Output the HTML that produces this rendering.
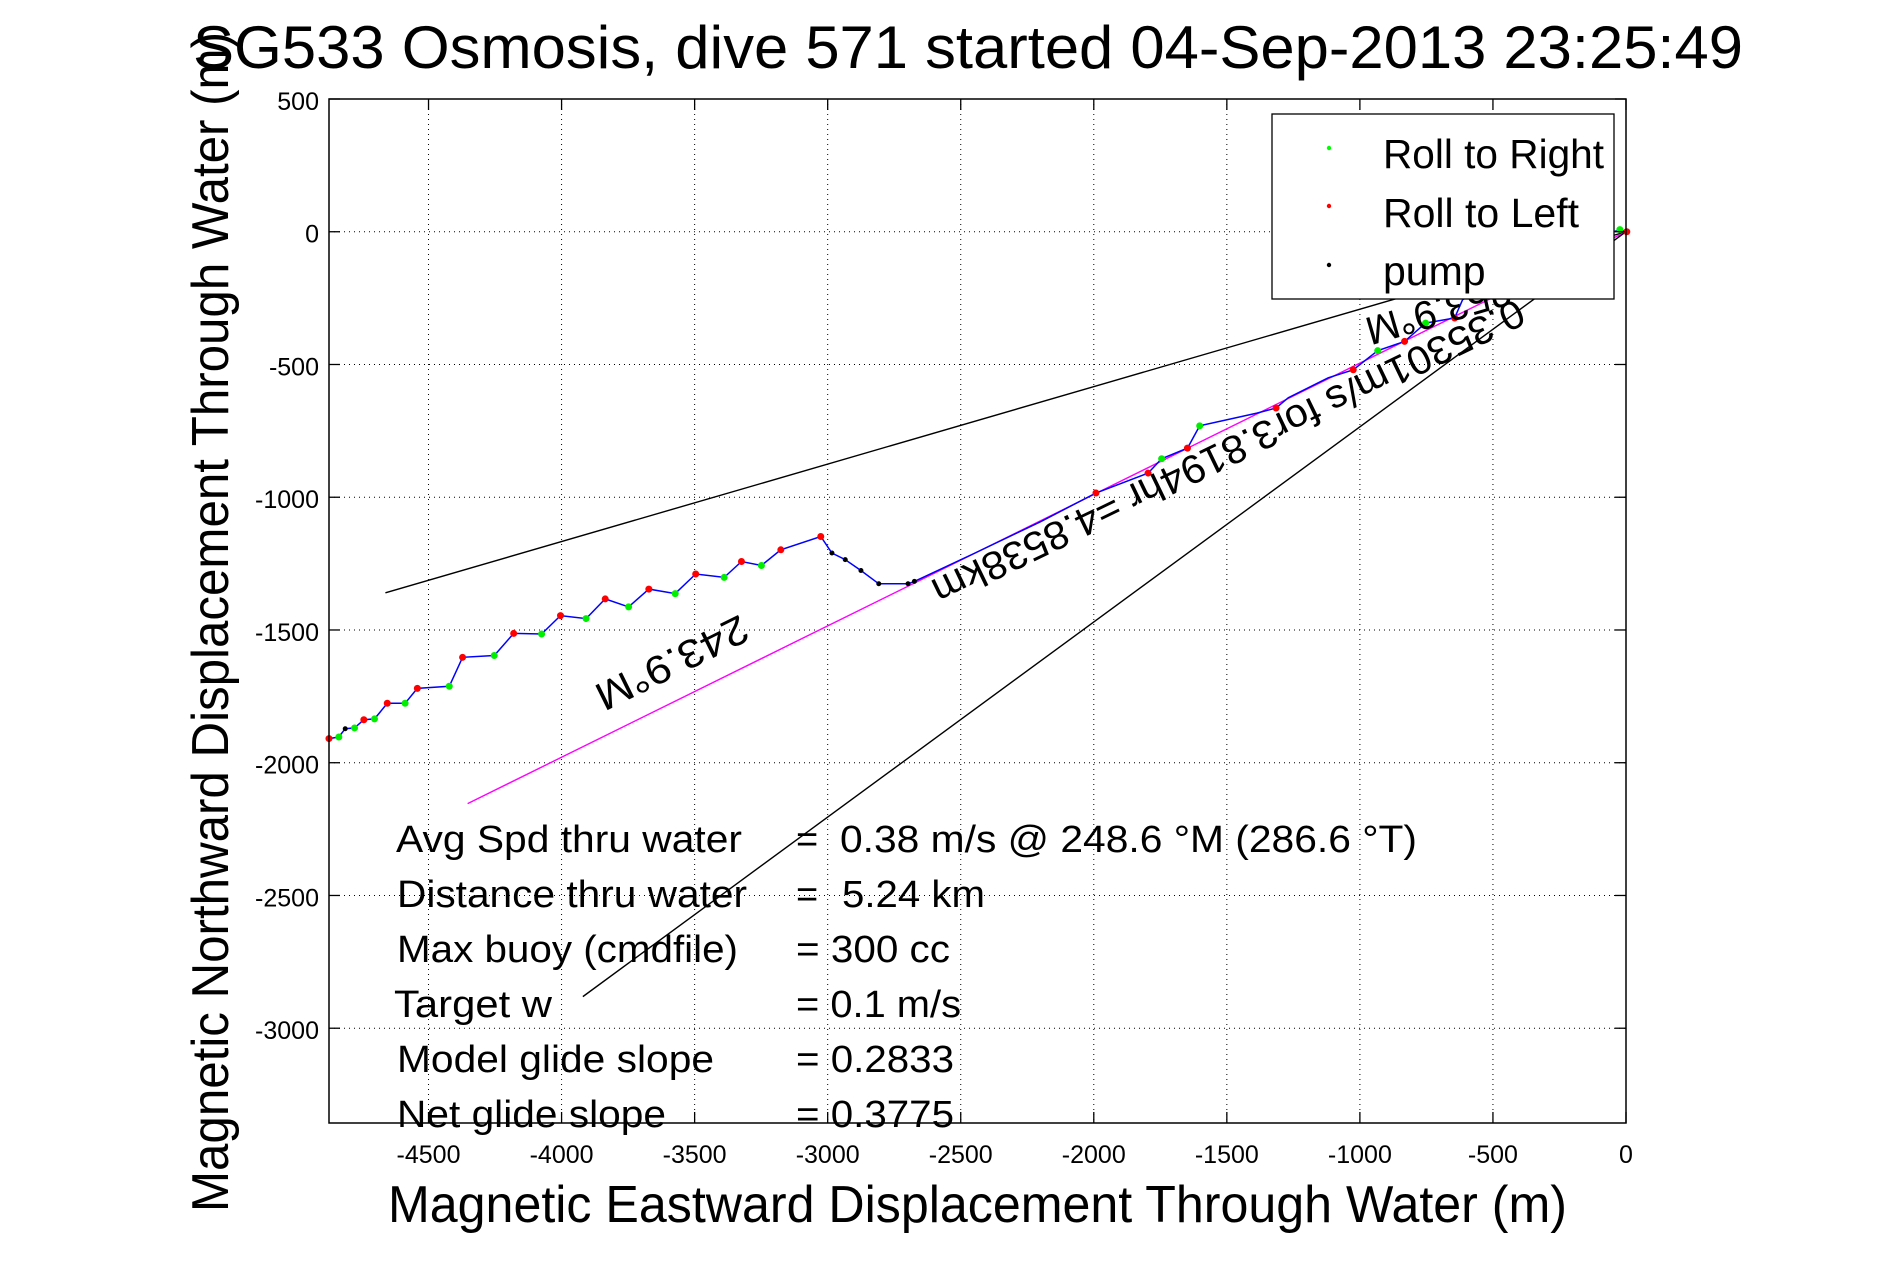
<!DOCTYPE html>
<html><head><meta charset="utf-8"><style>
html,body{margin:0;padding:0;background:#fff;}
svg{display:block;font-family:"Liberation Sans",sans-serif;}
</style></head><body>
<svg id="chart" width="1891" height="1262" viewBox="0 0 1891 1262" xmlns="http://www.w3.org/2000/svg">
<rect x="0" y="0" width="1891" height="1262" fill="#fff"/>
<text x="193" y="68" font-size="60" textLength="1550" lengthAdjust="spacingAndGlyphs">SG533 Osmosis, dive 571 started 04-Sep-2013 23:25:49</text>
<g id="grid"></g>
<g id="marks"></g>
<g id="axes"></g>
<g font-size="40">
<text transform="translate(1363,319) rotate(163.7)" text-anchor="end">253.9°M</text>
<text transform="translate(740,614) rotate(153.7)" textLength="165" lengthAdjust="spacingAndGlyphs">243.9°M</text>
<text transform="translate(1516,298) rotate(154.2)" textLength="652" lengthAdjust="spacingAndGlyphs">0.35301m/s for3.8194hr =4.8538km</text>
</g>
<g>
<rect x="1272" y="114" width="342" height="185" fill="#fff" stroke="#000" stroke-width="1.3"/>
<circle cx="1329" cy="148" r="2.2" fill="#00ff00"/>
<circle cx="1329" cy="206" r="2.2" fill="#ff0000"/>
<circle cx="1329" cy="265" r="2.2" fill="#000"/>
<text x="1383" y="168" font-size="41" textLength="221" lengthAdjust="spacingAndGlyphs">Roll to Right</text>
<text x="1383" y="227" font-size="41" textLength="196" lengthAdjust="spacingAndGlyphs">Roll to Left</text>
<text x="1383" y="285" font-size="41">pump</text>
</g>
<g font-size="38">
<text x="396" y="852" textLength="346" lengthAdjust="spacingAndGlyphs">Avg Spd thru water</text>
<text x="796" y="852">=</text>
<text x="840" y="852" textLength="577" lengthAdjust="spacingAndGlyphs">0.38 m/s @ 248.6 °M (286.6 °T)</text>
<text x="397" y="907" textLength="350" lengthAdjust="spacingAndGlyphs">Distance thru water</text>
<text x="796" y="907">=</text>
<text x="842" y="907" textLength="143" lengthAdjust="spacingAndGlyphs">5.24 km</text>
<text x="397" y="962" textLength="341" lengthAdjust="spacingAndGlyphs">Max buoy (cmdfile)</text>
<text x="796" y="962" textLength="154" lengthAdjust="spacingAndGlyphs">= 300 cc</text>
<text x="394" y="1017" textLength="158" lengthAdjust="spacingAndGlyphs">Target w</text>
<text x="796" y="1017" textLength="165" lengthAdjust="spacingAndGlyphs">= 0.1 m/s</text>
<text x="397" y="1072" textLength="317" lengthAdjust="spacingAndGlyphs">Model glide slope</text>
<text x="796" y="1072" textLength="158" lengthAdjust="spacingAndGlyphs">= 0.2833</text>
<text x="397" y="1127" textLength="269" lengthAdjust="spacingAndGlyphs">Net glide slope</text>
<text x="796" y="1127" textLength="158" lengthAdjust="spacingAndGlyphs">= 0.3775</text>
</g>
<text x="388" y="1222" font-size="52" textLength="1179" lengthAdjust="spacingAndGlyphs">Magnetic Eastward Displacement Through Water (m)</text>
<text transform="translate(228,1212) rotate(-90)" font-size="52" textLength="1180" lengthAdjust="spacingAndGlyphs">Magnetic Northward Displacement Through Water (m)</text>
</svg>
<script>
const xTicks = [-4500,-4000,-3500,-3000,-2500,-2000,-1500,-1000,-500,0];
const yTicks = [500,0,-500,-1000,-1500,-2000,-2500,-3000];
const xTickLabels = ["-4500","-4000","-3500","-3000","-2500","-2000","-1500","-1000","-500","0"];
const yTickLabels = ["500","0","-500","-1000","-1500","-2000","-2500","-3000"];
const trackX = [-4874,-4837,-4813,-4778,-4743,-4703,-4655,-4588,-4542,-4422,-4372,-4253,-4180,-4075,-4004,-3908,-3836,-3748,-3672,-3573,-3496,-3389,-3324,-3249,-3176,-3026,-2984,-2934,-2875,-2808,-2698,-2674,-2450,-2200,-1992,-1796,-1745,-1648,-1602,-1387,-1315,-1269,-1119,-1025,-933,-832,-753,-644,-614,-249,-23,3];
const trackY = [-1909,-1903,-1872,-1869,-1838,-1835,-1776,-1776,-1720,-1712,-1603,-1596,-1513,-1515,-1446,-1457,-1383,-1413,-1346,-1363,-1289,-1302,-1242,-1257,-1198,-1148,-1210,-1235,-1276,-1326,-1326,-1317,-1212,-1092,-984,-909,-855,-815,-731,-683,-664,-625,-550,-520,-448,-413,-344,-325,-256,-68,8,0];
const markType = ["R","G","P","G","R","G","R","G","R","G","R","G","R","G","R","G","R","G","R","G","R","G","R","G","R","R","P","P","P","P","P","P","","","R","R","G","R","G","","R","","","R","G","R","G","R","","","G","R"];
const headingEndX = [-4662,-4353,-3920];
const headingEndY = [-1360,-2154,-2881];
const headingNames = ["upper-bound-line","mean-heading-line","lower-bound-line"];
const headingColors = ["#000","#ff00ff","#000"];

const L=329,R=1626,T=99,B=1123;
const xMin=-4874, xMax=0, yMax=500, yMin=-3357;
function sx(v){return L+(v-xMin)/(xMax-xMin)*(R-L);}
function sy(v){return T+(yMax-v)/(yMax-yMin)*(B-T);}
const NS="http://www.w3.org/2000/svg";
function mk(tag,parent,attrs){const e=document.createElementNS(NS,tag);for(const k in attrs)e.setAttribute(k,attrs[k]);parent.appendChild(e);return e;}
const grid=document.getElementById('grid'), marks=document.getElementById('marks'), axes=document.getElementById('axes');

xTicks.forEach((v,i)=>{
  const g=mk('line',grid,{x1:sx(v),x2:sx(v),y1:T,y2:B,stroke:'#000','stroke-width':1,'stroke-dasharray':'1,4'});
  
  
  const t1=mk('line',axes,{x1:sx(v),x2:sx(v),y1:B,y2:B-11,stroke:'#000','stroke-width':1.3});
  
  
  const t2=mk('line',axes,{x1:sx(v),x2:sx(v),y1:T,y2:T+11,stroke:'#000','stroke-width':1.3});
  
  
  const lb=mk('text',axes,{x:sx(v),y:1163,'font-size':25,'text-anchor':'middle'});
  lb.textContent=xTickLabels[i];
  
  
});
yTicks.forEach((v,i)=>{
  const g=mk('line',grid,{x1:L,x2:R,y1:sy(v),y2:sy(v),stroke:'#000','stroke-width':1,'stroke-dasharray':'1,4'});
  
  
  const t1=mk('line',axes,{x1:L,x2:L+11,y1:sy(v),y2:sy(v),stroke:'#000','stroke-width':1.3});
  
  
  const t2=mk('line',axes,{x1:R,x2:R-11,y1:sy(v),y2:sy(v),stroke:'#000','stroke-width':1.3});
  
  
  const lb=mk('text',axes,{x:319,y:sy(v)+11,'font-size':25,'text-anchor':'end'});
  lb.textContent=yTickLabels[i];
  
  
});
const box=mk('rect',axes,{x:L,y:T,width:R-L,height:B-T,fill:'none',stroke:'#000','stroke-width':1.5});



headingEndX.forEach((v,i)=>{
  const ln=mk('line',marks,{x1:sx(0),y1:sy(0),x2:sx(v),y2:sy(headingEndY[i]),stroke:headingColors[i],'stroke-width':1.4});
  
  
});
const pts=trackX.map((v,i)=>sx(v).toFixed(1)+','+sy(trackY[i]).toFixed(1)).join(' ');
const tr=mk('polyline',marks,{points:pts,fill:'none',stroke:'#0000ff','stroke-width':1.5});


const colors={R:'#ff0000',G:'#00ee00',P:'#000'};
const names={R:'roll-left-marker',G:'roll-right-marker',P:'pump-marker'};
trackX.forEach((v,i)=>{
  const t=markType[i]; if(!t) return;
  const c=mk('circle',marks,{cx:sx(v),cy:sy(trackY[i]),r:t==='P'?2.5:3.5,fill:colors[t]});
  
  
});
</script>
</body></html>
